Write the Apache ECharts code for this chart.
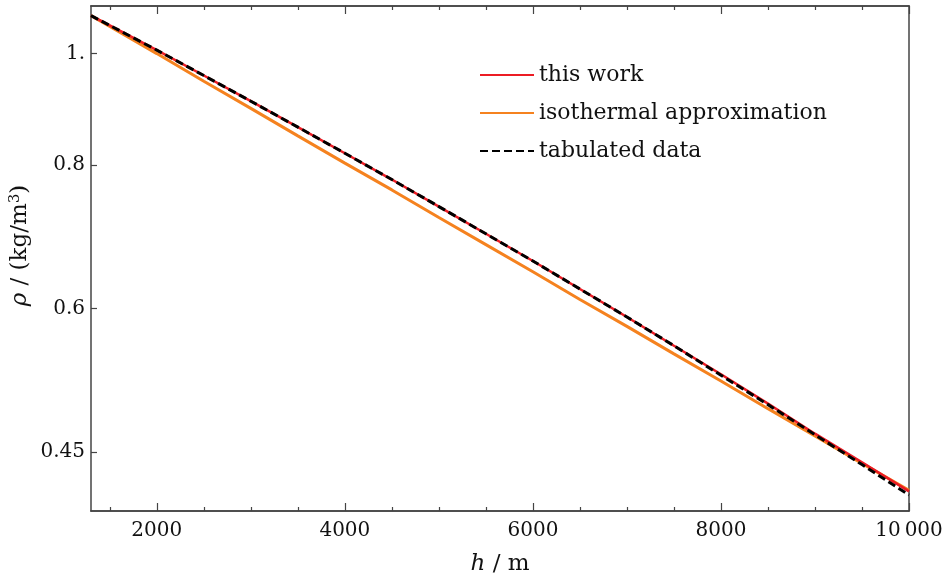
<!DOCTYPE html>
<html>
<head>
<meta charset="utf-8">
<script src="https://cdn.jsdelivr.net/npm/echarts@6/dist/echarts.min.js"></script>
<style>
  html, body { margin: 0; padding: 0; background: #fff; }
  #chart { width: 946px; height: 581px; }
</style>
</head>
<body>
<div id="chart"></div>
<script>
// altitude in m
const heights = [1300, 1500, 2000, 2500, 3000, 3500, 4000, 4500, 5000, 5500,
                 6000, 6500, 7000, 7500, 8000, 8500, 9000, 9500, 10000];
// density in kg/m^3
const thisWork = [1.079, 1.058, 1.007, 0.957, 0.909, 0.863, 0.819, 0.777, 0.736, 0.697,
                  0.660, 0.624, 0.590, 0.557, 0.526, 0.496, 0.467, 0.441, 0.416];
const isothermal = [1.079, 1.056, 1.000, 0.946, 0.896, 0.848, 0.803, 0.761, 0.720, 0.682,
                    0.646, 0.611, 0.579, 0.548, 0.519, 0.491, 0.465, 0.440, 0.417];
const tabulated = [1.079, 1.058, 1.007, 0.957, 0.909, 0.863, 0.819, 0.777, 0.736, 0.697,
                   0.660, 0.624, 0.590, 0.557, 0.525, 0.495, 0.466, 0.439, 0.413];

const xMajor = [2000, 4000, 6000, 8000, 10000];
const xMinor = [1500, 2500, 3000, 3500, 4500, 5000, 5500, 6500, 7000, 7500, 8500, 9000, 9500];
const yTicks = [0.45, 0.6, 0.8, 1];

const font = 'DejaVu Serif';
const frame = { show: true, onZero: false, lineStyle: { color: '#444', width: 1.5 } };
const yMin = 0.4, yMax = 1.1;

const pairs = arr => heights.map((h, i) => [h, arr[i]]);

const chart = echarts.init(document.getElementById('chart'));

function xAx(pos, ticks, len, labels) {
  return {
    type: 'value', position: pos, min: 1300, max: 10000,
    axisLine: frame, splitLine: { show: false },
    axisTick: { show: true, inside: true, length: len, customValues: ticks,
                lineStyle: { color: '#444', width: 1.2 } },
    axisLabel: labels ? {
      show: true, customValues: xMajor, margin: 10,
      fontFamily: font, fontSize: 20, color: '#111',
      formatter: v => v === 10000 ? '10\u2009000' : String(v)
    } : { show: false }
  };
}

const option = {
  animation: false,
  backgroundColor: '#fff',
  grid: { left: 91, right: 37, top: 6, bottom: 70 },
  legend: {
    orient: 'vertical', left: 474, top: 56,
    itemWidth: 54, itemHeight: 14, itemGap: 10,
    itemStyle: { opacity: 0 },
    textStyle: { fontFamily: font, fontSize: 22, color: '#111', lineHeight: 28 },
    data: ['this work', 'isothermal approximation', 'tabulated data']
  },
  xAxis: [
    Object.assign(xAx('bottom', xMajor, 8, true), {
      name: '{i|h} / m', nameLocation: 'middle', nameGap: 42,
      nameTextStyle: { fontFamily: font, fontSize: 23, color: '#111',
        rich: { i: { fontFamily: font, fontStyle: 'italic', fontSize: 23, color: '#111' } } }
    }),
    xAx('bottom', xMinor, 4, false),
    xAx('top', xMajor, 8, false),
    xAx('top', xMinor, 4, false)
  ],
  yAxis: [
    { // data axis (log)
      type: 'log', min: yMin, max: yMax, position: 'left',
      axisLine: frame, axisTick: { show: false }, axisLabel: { show: false },
      splitLine: { show: false }, minorTick: { show: false },
      name: '{i|ρ} / (kg/m{s|3})', nameLocation: 'middle', nameGap: 58,
      nameTextStyle: { fontFamily: font, fontSize: 23, color: '#111', padding: [0, 0, 0, 26],
        rich: {
          i: { fontFamily: font, fontStyle: 'italic', fontSize: 23, color: '#111' },
          s: { fontFamily: font, fontSize: 15, color: '#111', verticalAlign: 'bottom', padding: [0, 0, 10, 0] }
        } }
    },
    { // tick labels in log10 space
      type: 'value', position: 'left',
      min: Math.log10(yMin), max: Math.log10(yMax),
      axisLine: { show: false, onZero: false }, splitLine: { show: false },
      axisTick: { show: true, inside: true, length: 6,
                  customValues: yTicks.map(v => Math.log10(v)),
                  lineStyle: { color: '#444', width: 1.2 } },
      axisLabel: {
        show: true, margin: 6,
        customValues: yTicks.map(v => Math.log10(v)),
        fontFamily: font, fontSize: 20, color: '#111',
        formatter: v => {
          const r = Number(Math.pow(10, v).toFixed(2));
          return r === 1 ? '1.' : String(r);
        }
      }
    },
    { // right frame
      type: 'value', position: 'right', min: 0, max: 1,
      axisLine: frame, axisTick: { show: false }, axisLabel: { show: false },
      splitLine: { show: false }
    }
  ],
  series: [
    {
      name: 'isothermal approximation', type: 'line', data: pairs(isothermal),
      showSymbol: false, symbol: 'none', z: 2,
      lineStyle: { color: '#f5821f', width: 3 }, itemStyle: { color: '#f5821f' }
    },
    {
      name: 'this work', type: 'line', data: pairs(thisWork),
      showSymbol: false, symbol: 'none', z: 3,
      lineStyle: { color: '#ec1c24', width: 2.5 }, itemStyle: { color: '#ec1c24' }
    },
    {
      name: 'tabulated data', type: 'line', data: pairs(tabulated),
      showSymbol: false, symbol: 'none', z: 4,
      lineStyle: { color: '#000', width: 3, type: [8, 4] }, itemStyle: { color: '#000' }
    }
  ]
};
chart.setOption(option);
</script>
</body>
</html>
